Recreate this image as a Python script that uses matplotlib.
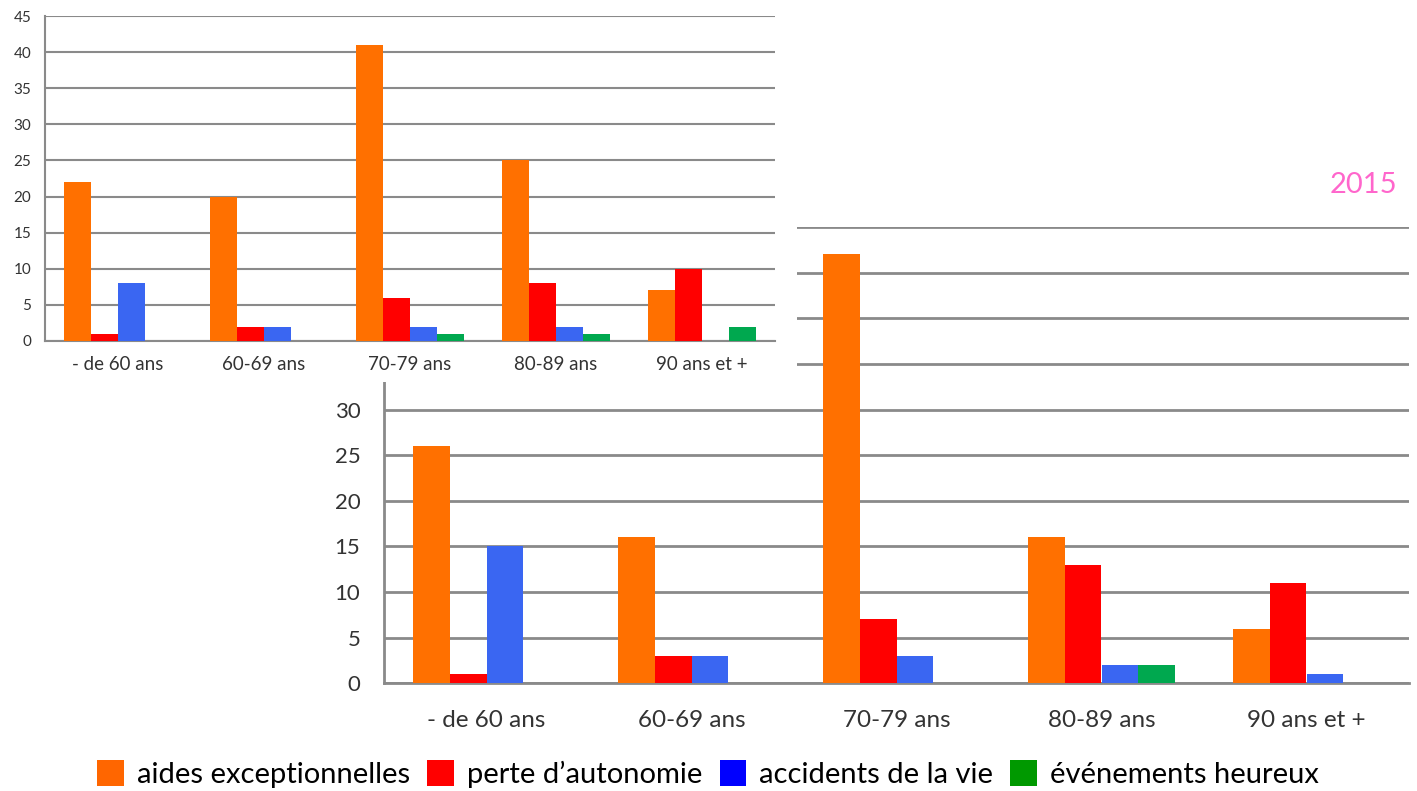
import matplotlib
matplotlib.use("Agg")
import matplotlib.pyplot as plt
from matplotlib.patches import Rectangle, Patch
import numpy as np

plt.rcParams['font.family'] = ['Lato', 'DejaVu Sans']

categories = ["- de 60 ans", "60-69 ans", "70-79 ans", "80-89 ans", "90 ans et +"]
series_names = ["aides exceptionnelles", "perte d\u2019autonomie", "accidents de la vie", "\u00e9v\u00e9nements heureux"]

# 2014 (small chart, top-left)
aides_2014 = [22, 20, 41, 25, 7]
perte_2014 = [1, 2, 6, 8, 10]
accidents_2014 = [8, 2, 2, 2, 0]
heureux_2014 = [0, 0, 1, 1, 2]

# 2015 (large chart)
aides_2015 = [26, 16, 47, 16, 6]
perte_2015 = [1, 3, 7, 13, 11]
accidents_2015 = [15, 3, 3, 2, 1]
heureux_2015 = [0, 0, 0, 2, 0]

bar_colors = ["#FF7000", "#FF0000", "#3A66F2", "#00A84F"]
legend_colors = ["#FF6600", "#FF0000", "#0000FF", "#009900"]
grid_col = "#8A8A8A"
text_col = "#333333"

W, H = 1417, 791
fig = plt.figure(figsize=(W / 100, H / 100), dpi=100)
fig.patch.set_facecolor("white")


def style_axes(ax, ymax, step, tick_fs, cat_fs, cat_pad, tick_pad, glw):
    ax.set_xlim(-0.5, 4.5)
    ax.set_ylim(0, ymax)
    ax.set_yticks(np.arange(0, ymax + 0.1, step))
    ax.yaxis.grid(True, color=grid_col, linewidth=glw)
    ax.set_axisbelow(True)
    for s in ["top", "right"]:
        ax.spines[s].set_visible(False)
    for s in ["left", "bottom"]:
        ax.spines[s].set_color(grid_col)
        ax.spines[s].set_linewidth(glw)
    ax.set_xticks(range(len(categories)))
    ax.set_xticklabels(categories)
    ax.tick_params(axis="x", length=0, pad=cat_pad, labelsize=cat_fs, labelcolor=text_col)
    ax.tick_params(axis="y", length=0, pad=tick_pad, labelsize=tick_fs, labelcolor=text_col)


def draw_bars(ax, data, width):
    x = np.arange(len(categories))
    for i, (vals, c) in enumerate(zip(data, bar_colors)):
        ax.bar(x + (i - 1.5) * width, vals, width=width, color=c, linewidth=0, zorder=3)


# Large 2015 chart
ax_big = fig.add_axes([384 / W, 1 - 683.3 / H, (1409 - 384) / W, (683.3 - 227) / H])
ax_big.set_zorder(1)
style_axes(ax_big, 50, 5, 16, 17.5, 19, 17, 2.0)
draw_bars(ax_big, [aides_2015, perte_2015, accidents_2015, heureux_2015], 0.179)

# white cover of the top-left area
cover = Rectangle((0, 1 - 382 / H), 797 / W, 382 / H, transform=fig.transFigure,
                  facecolor="white", edgecolor="none", zorder=2)
fig.add_artist(cover)

# Small 2014 chart
ax_small = fig.add_axes([45 / W, 1 - 341 / H, (775 - 45) / W, (341 - 16) / H])
ax_small.set_zorder(3)
style_axes(ax_small, 45, 5, 11, 13.5, 11, 10, 1.5)
draw_bars(ax_small, [aides_2014, perte_2014, accidents_2014, heureux_2014], 0.185)

fig.text(1397 / W, 1 - 185 / H, "2015", color="#FF66CC", fontsize=21,
         ha="right", va="center", fontweight="normal")

handles = [Patch(facecolor=c, edgecolor="none") for c in legend_colors]
fig.legend(handles, series_names, loc="center", bbox_to_anchor=(708 / W, 1 - 774 / H),
           ncol=4, frameon=False, fontsize=21, handlelength=0.9, handleheight=1.0,
           handletextpad=0.45, columnspacing=0.6, labelcolor="black")

fig.savefig("out.png", dpi=100, facecolor="white")
